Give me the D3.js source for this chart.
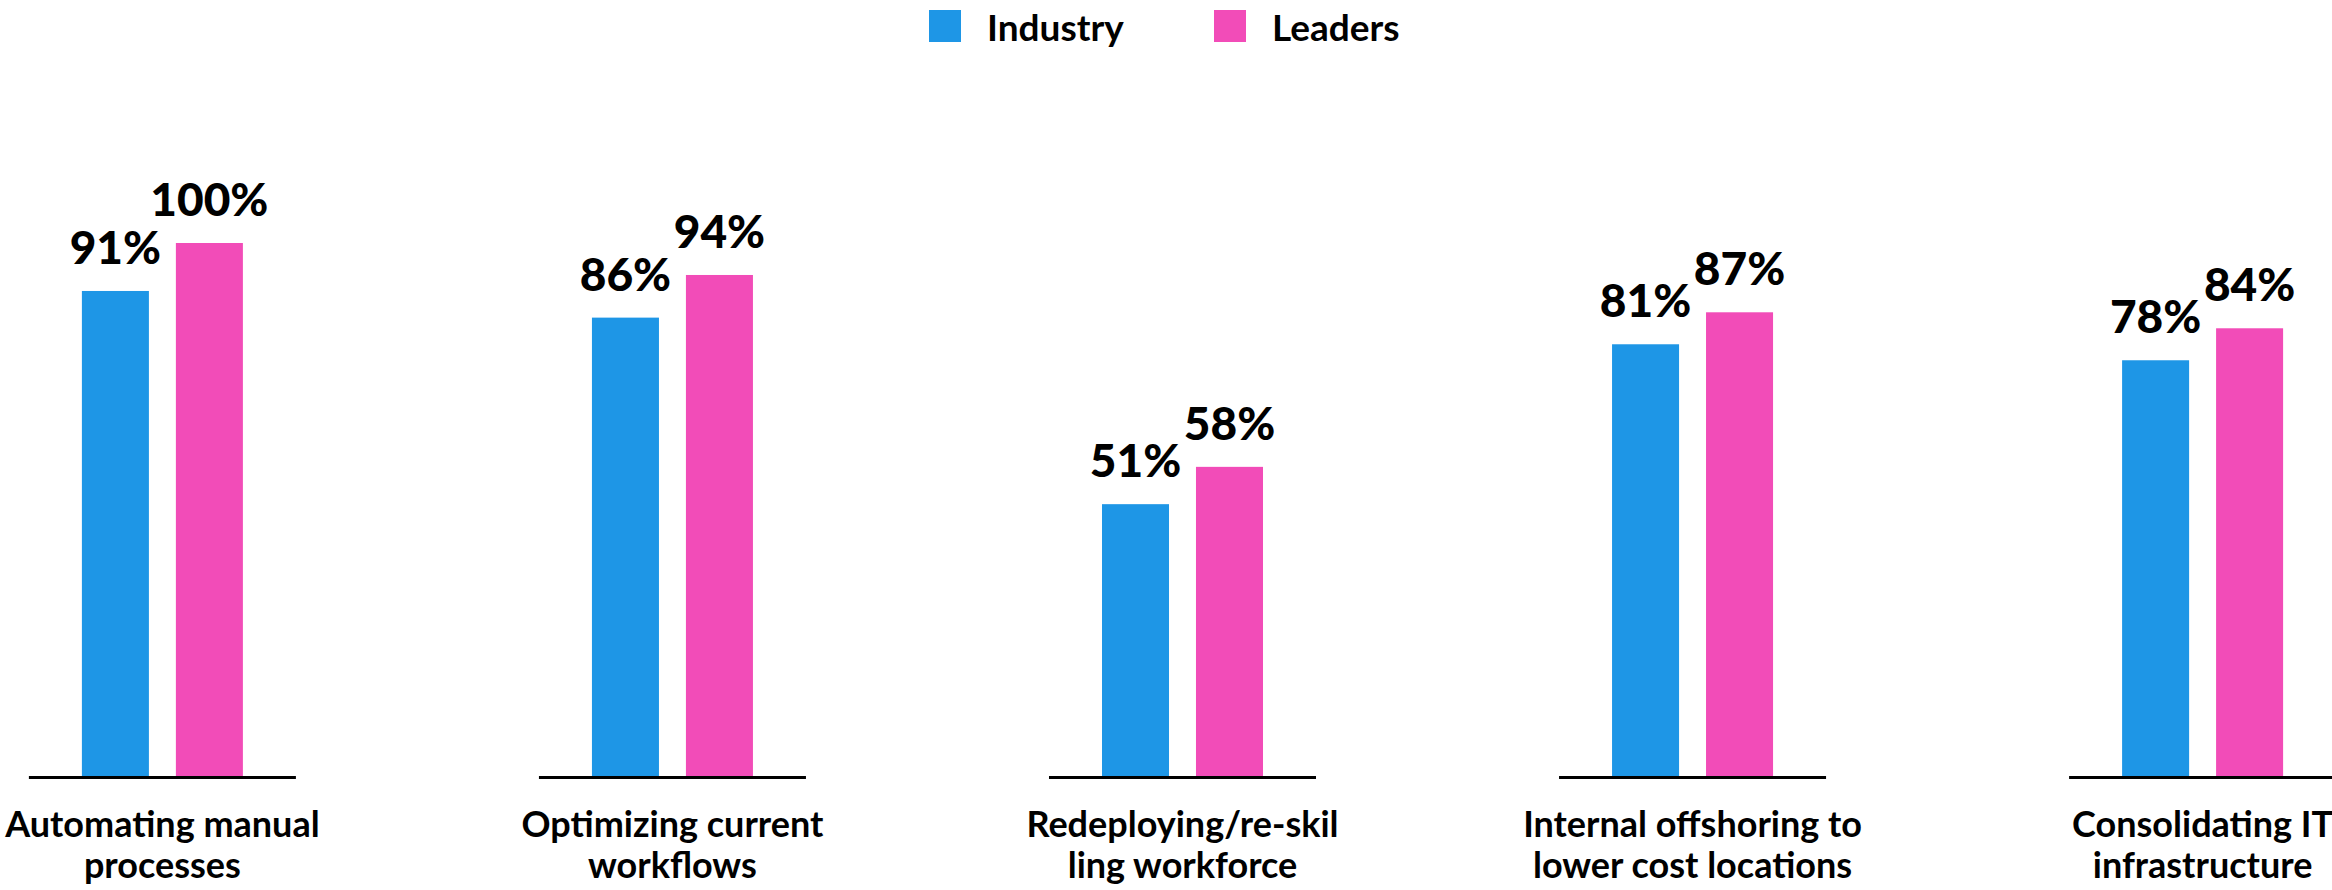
<!DOCTYPE html>
<html>
<head>
<meta charset="utf-8">
<script src="https://cdn.jsdelivr.net/npm/d3@7"></script>
<style>
  body { margin: 0; background: #fff; }
  text { font-family: Lato, "Open Sans", sans-serif; fill: #000; }
  .value { font-size: 46px; font-weight: 900; }
  .cat { font-size: 36px; font-weight: 700; }
  .legend-label { font-size: 37px; font-weight: 700; }
</style>
</head>
<body>
<svg id="chart"></svg>
<script>
const categories = [
  ['Automating manual', 'processes'],
  ['Optimizing current', 'workflows'],
  ['Redeploying/re-skil', 'ling workforce'],
  ['Internal offshoring to', 'lower cost locations'],
  ['Consolidating IT', 'infrastructure']
];
const seriesNames = ['Industry', 'Leaders'];
const industry = [91, 86, 51, 81, 78];
const leaders = [100, 94, 58, 87, 84];
const colors = {Industry: '#1e96e6', Leaders: '#f24cb8'};

const chartSize = {width: 2332, height: 890};
const baseY = 776;

const svg = d3.select('#chart')
    .attr('width', chartSize.width)
    .attr('height', chartSize.height);

const keys = categories.map(c => c.join(' '));
const rows = keys.map((k, i) => ({key: k, lines: categories[i], Industry: industry[i], Leaders: leaders[i]}));

const x0 = d3.scaleBand()
    .domain(keys)
    .range([-92.5, 2457.5])
    .paddingInner(0.4765)
    .paddingOuter(0.238);

const x1 = d3.scaleBand()
    .domain(seriesNames)
    .range([53, 214])
    .paddingInner(0.287);

const y = d3.scaleLinear()
    .domain([0, 100])
    .range([baseY, 243]);

const groups = svg.selectAll('g.group')
    .data(rows)
    .join('g')
    .attr('class', 'group')
    .attr('transform', d => `translate(${x0(d.key)},0)`);

groups.selectAll('rect')
    .data(d => seriesNames.map(s => ({s, v: d[s]})))
    .join('rect')
    .attr('x', d => x1(d.s))
    .attr('y', d => y(d.v))
    .attr('width', x1.bandwidth())
    .attr('height', d => y(0) - y(d.v))
    .attr('fill', d => colors[d.s]);

groups.selectAll('text.value')
    .data(d => seriesNames.map(s => ({s, v: d[s]})))
    .join('text')
    .attr('class', 'value')
    .attr('x', d => x1(d.s) + x1.bandwidth() / 2)
    .attr('y', d => y(d.v) - 27)
    .attr('text-anchor', 'middle')
    .text(d => d.v + '%');

// baseline under each group
groups.append('line')
    .attr('x1', 0)
    .attr('x2', x0.bandwidth())
    .attr('y1', baseY + 1.5)
    .attr('y2', baseY + 1.5)
    .attr('stroke', '#000')
    .attr('stroke-width', 3);

groups.append('text')
    .attr('class', 'cat')
    .attr('text-anchor', 'middle')
    .attr('x', x0.bandwidth() / 2)
    .attr('y', 837)
    .selectAll('tspan')
    .data(d => d.lines)
    .join('tspan')
    .attr('x', x0.bandwidth() / 2)
    .attr('dy', (d, i) => i === 0 ? 0 : 41)
    .text(d => d);

// legend
const legendX = [929, 1214];
const legend = svg.selectAll('g.legend')
    .data(seriesNames)
    .join('g')
    .attr('class', 'legend')
    .attr('transform', (d, i) => `translate(${legendX[i]},10)`);

legend.append('rect')
    .attr('width', 32)
    .attr('height', 32)
    .attr('fill', d => colors[d]);

legend.append('text')
    .attr('class', 'legend-label')
    .attr('x', 58)
    .attr('y', 31)
    .text(d => d);
</script>
</body>
</html>
